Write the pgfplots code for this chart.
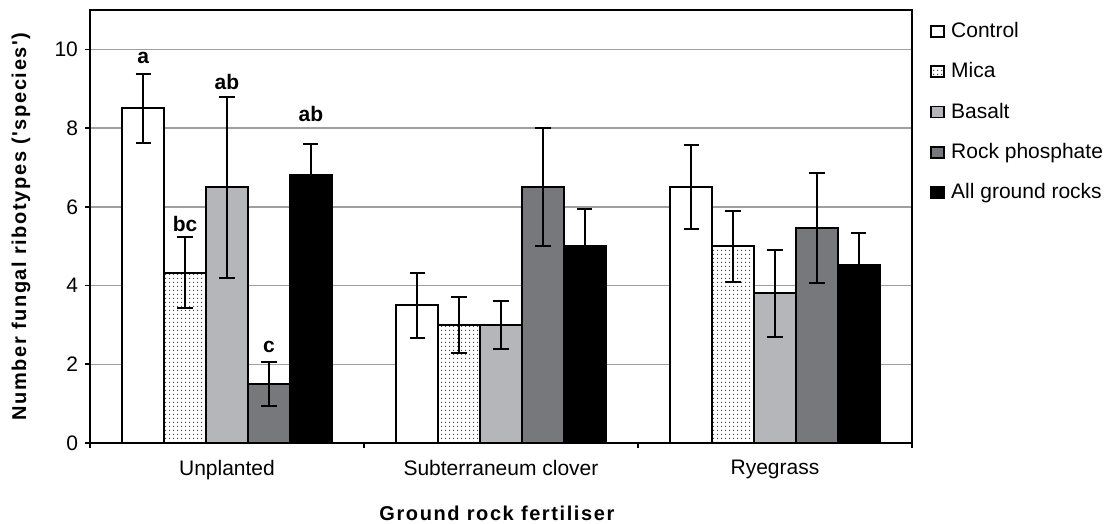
\documentclass[border=0pt]{standalone}
\usepackage{fontspec}
\setmainfont{Liberation Sans}
\setsansfont{Liberation Sans}
\newfontfamily\spacedsans{Liberation Sans}[LetterSpace=8]
\usepackage{pgfplots}
\usepackage{pgfplotstable}
\pgfplotsset{compat=1.18}
\usetikzlibrary{patterns.meta}

\definecolor{basaltgray}{RGB}{180,182,185}
\definecolor{rpgray}{RGB}{119,120,124}

\tikzdeclarepattern{
  name=finedots,
  type=uncolored,
  bounding box={(0pt,0pt) and (2pt,2pt)},
  tile size={(2pt,2pt)},
  code={\fill (1pt,1pt) circle (0.4pt);}
}

% mean number of ribotypes and standard error per treatment
\pgfplotstableread{
x y err
0 8.5 0.88
1 3.5 0.82
2 6.5 1.07
}\controldata
\pgfplotstableread{
x y err
0 4.33 0.90
1 3.0 0.72
2 5.0 0.90
}\micadata
\pgfplotstableread{
x y err
0 6.5 2.30
1 3.0 0.62
2 3.8 1.10
}\basaltdata
\pgfplotstableread{
x y err
0 1.5 0.57
1 6.5 1.50
2 5.47 1.40
}\rpdata
\pgfplotstableread{
x y err
0 6.8 0.80
1 5.0 0.95
2 4.53 0.80
}\alldata

\pgfplotsset{
  sq legend/.style={legend image code/.code={%
    \draw[##1, line width=0.9pt] (0pt,-2.75pt) rectangle (6.5pt,2.75pt);}},
  errs/.style={
    error bars/y dir=both,
    error bars/y explicit,
    error bars/error bar style={line width=1pt, black},
    error bars/error mark options={rotate=90, mark size=3.8pt, line width=1pt, black}},
}

\begin{document}
\begin{tikzpicture}
\useasboundingbox (-45pt,-40.5pt) rectangle (509pt,221.5pt);
\begin{axis}[
  at={(0,0)}, anchor=south west,
  scale only axis, width=411pt, height=216.5pt,
  xmin=-0.5, xmax=2.5, ymin=0, ymax=11,
  ybar, bar width=0.153,
  xtick={-0.5,0.5,1.5,2.5},
  xticklabels={Unplanted,Subterraneum clover,Ryegrass},
  x tick label as interval,
  ytick={0,2,...,10},
  ymajorgrids, grid style={gray!75, line width=0.7pt},
  axis line style={line width=1pt},
  tick align=outside, xtick pos=bottom, ytick pos=left,
  major tick length=2.5pt,
  tick style={black, line width=0.8pt},
  ticklabel style={font=\fontsize{10.5}{12}\selectfont},
  xticklabel style={yshift=-2.5pt},
  /pgf/number format/assume math mode=true,
  xlabel={Ground rock fertiliser},
  ylabel={Number fungal ribotypes ('species')},
  xlabel style={font=\spacedsans\bfseries\fontsize{10}{12}\selectfont,
    at={(axis description cs:0.495,-0.163)}, anchor=center},
  ylabel style={font=\spacedsans\bfseries\fontsize{10}{12}\selectfont,
    at={(axis description cs:-0.084,0.5)}, anchor=center},
  legend cell align=left,
  legend style={at={(rel axis cs:1,1)}, anchor=north west,
    xshift=6pt, yshift=-2pt, draw=none, fill=none,
    font=\fontsize{10.5}{12}\selectfont, row sep=7pt,
    nodes={inner xsep=3pt}},
]
\addplot[sq legend, errs, bar shift=-0.306, draw=black, line width=1pt, fill=white]
  table[x=x, y=y, y error=err] {\controldata};
\addlegendentry{Control}
\addplot[sq legend, errs, bar shift=-0.153, draw=black, line width=1pt, fill=white,
  postaction={pattern=finedots, pattern color=black!80}]
  table[x=x, y=y, y error=err] {\micadata};
\addlegendentry{Mica}
\addplot[sq legend, errs, bar shift=0, draw=black, line width=1pt, fill=basaltgray]
  table[x=x, y=y, y error=err] {\basaltdata};
\addlegendentry{Basalt}
\addplot[sq legend, errs, bar shift=0.153, draw=black, line width=1pt, fill=rpgray]
  table[x=x, y=y, y error=err] {\rpdata};
\addlegendentry{Rock phosphate}
\addplot[sq legend, errs, bar shift=0.306, draw=black, line width=1pt, fill=black]
  table[x=x, y=y, y error=err] {\alldata};
\addlegendentry{All ground rocks}

% significance letters for the unplanted treatments
\begin{scope}[every node/.style={anchor=base, inner sep=0pt,
    font=\bfseries\fontsize{10.5}{12}\selectfont}]
\node at (axis cs:-0.306,9.64) {a};
\node at (axis cs:-0.153,5.38) {bc};
\node at (axis cs:0,8.98) {ab};
\node at (axis cs:0.153,2.31) {c};
\node at (axis cs:0.306,8.17) {ab};
\end{scope}
\end{axis}
\end{tikzpicture}
\end{document}
